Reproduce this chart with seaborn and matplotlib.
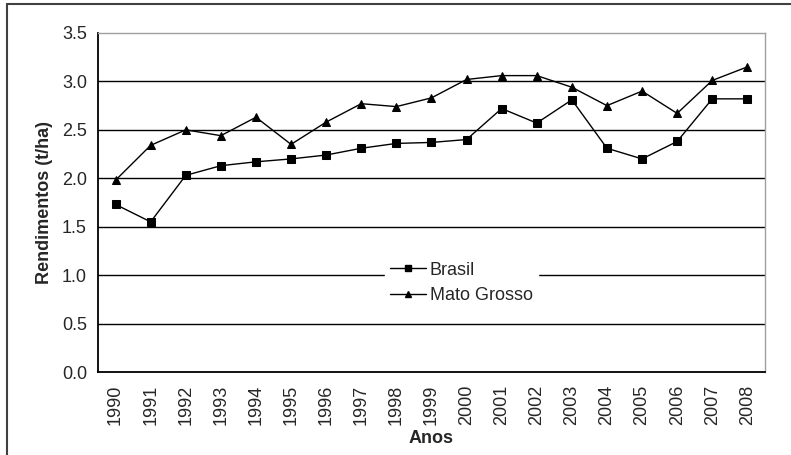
import numpy as np
import pandas as pd
import seaborn as sns
import matplotlib.pyplot as plt
from matplotlib.lines import Line2D

anos = [str(a) for a in range(1990, 2009)]
brasil = [1.73, 1.55, 2.03, 2.13, 2.17, 2.20, 2.24, 2.31, 2.36, 2.37, 2.40,
          2.72, 2.57, 2.81, 2.31, 2.20, 2.38, 2.82, 2.82]
mato_grosso = [1.98, 2.34, 2.50, 2.44, 2.63, 2.35, 2.58, 2.77, 2.74, 2.83, 3.02,
               3.06, 3.06, 2.94, 2.75, 2.90, 2.67, 3.01, 3.15]

sns.set_style('white')
plt.rcParams['font.family'] = ['Liberation Sans', 'DejaVu Sans']

df = pd.DataFrame({'pos': list(range(len(anos))) * 2,
                   'valor': brasil + mato_grosso,
                   'serie': ['Brasil'] * len(anos) + ['Mato Grosso'] * len(anos)})

fig = plt.figure(figsize=(7.91, 4.55), dpi=100)
ax = fig.add_axes([0.1239, 0.1824, 0.967 - 0.1239, 0.9275 - 0.1824])

for y in np.arange(0.5, 3.5, 0.5):
    ax.axhline(y, color='black', lw=1, zorder=1)

sns.lineplot(data=df, x='pos', y='valor', hue='serie', style='serie',
             markers={'Brasil': 's', 'Mato Grosso': '^'}, dashes=False,
             palette={'Brasil': 'black', 'Mato Grosso': 'black'},
             markersize=6, markeredgecolor='black', linewidth=1,
             legend=False, ax=ax, zorder=3)

ax.set_xlim(-0.5, len(anos) - 0.5)
ax.set_ylim(0, 3.5)
ax.set_yticks(np.arange(0, 3.51, 0.5))
ax.set_yticklabels([f'{v:.1f}' for v in np.arange(0, 3.51, 0.5)], fontsize=13)
ax.set_xticks(range(len(anos)))
ax.set_xticklabels(anos, rotation=90, fontsize=13)
ax.set_xticks(np.arange(-0.5, len(anos), 1), minor=True)
ax.tick_params(axis='x', which='major', length=0, pad=9)
ax.tick_params(axis='x', which='minor', length=5, width=1.2, direction='out', color='black')
ax.tick_params(axis='y', which='major', length=5, width=1.2, direction='out', color='black', pad=3)

for s in ['left', 'bottom']:
    ax.spines[s].set_color('black')
    ax.spines[s].set_linewidth(1.3)
for s in ['top', 'right']:
    ax.spines[s].set_color('#a0a0a0')
    ax.spines[s].set_linewidth(1)

ax.set_ylabel('Rendimentos (t/ha)', fontsize=13, fontweight='bold', labelpad=6)
ax.set_xlabel('Anos', fontsize=13, fontweight='bold', labelpad=4)

handles = [Line2D([], [], color='black', marker='s', markersize=5, lw=1),
           Line2D([], [], color='black', marker='^', markersize=5, lw=1)]
leg = ax.legend(handles, ['Brasil', 'Mato Grosso'], loc='center',
                bbox_to_anchor=(0.545, 0.263), frameon=True, fontsize=13,
                handlelength=2.0, handletextpad=0.2, labelspacing=0.45,
                borderpad=0.3)
leg.get_frame().set_facecolor('white')
leg.get_frame().set_edgecolor('white')
leg.get_frame().set_alpha(1)

# outer frame of the chart area
fig.add_artist(Line2D([7 / 791, 1], [1 - 4 / 455, 1 - 4 / 455], color='#404040', lw=1.5))
fig.add_artist(Line2D([7 / 791, 7 / 791], [0, 1 - 4 / 455], color='#404040', lw=1.5))

fig.savefig('out.png', dpi=100)
